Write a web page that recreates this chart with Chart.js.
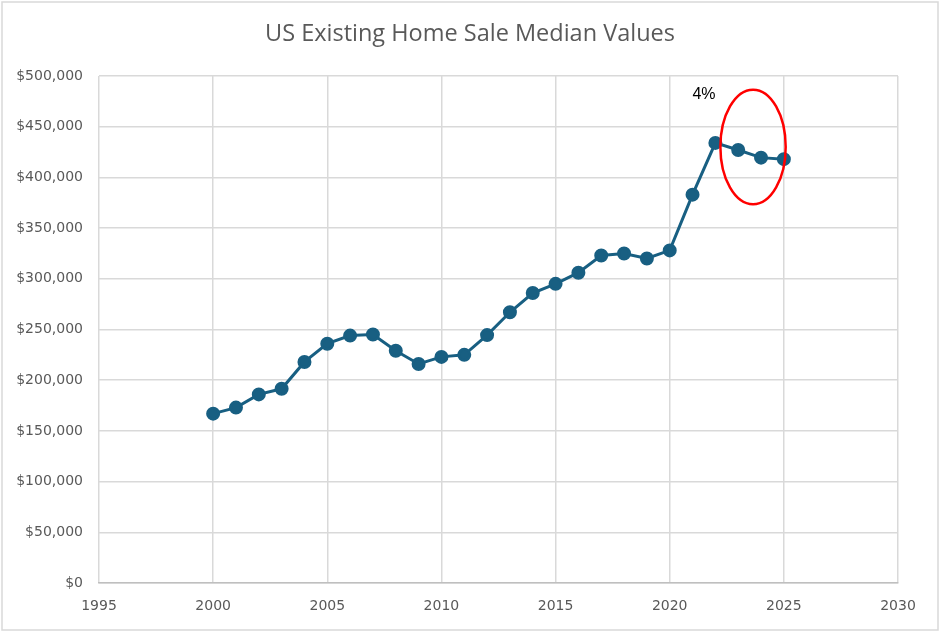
<!DOCTYPE html>
<html>
<head>
<meta charset="utf-8">
<script src="https://cdn.jsdelivr.net/npm/chart.js@4/dist/chart.umd.min.js"></script>
<style>
  html, body { margin: 0; padding: 0; background: #fff; }
  #wrap { width: 940px; height: 632px; }
</style>
</head>
<body>
<div id="wrap"><canvas id="home_chart" width="940" height="632"></canvas></div>
<script>
// data
var years = [2000, 2001, 2002, 2003, 2004, 2005, 2006, 2007, 2008, 2009, 2010, 2011, 2012,
  2013, 2014, 2015, 2016, 2017, 2018, 2019, 2020, 2021, 2022, 2023, 2024, 2025];
var medianValues = [167000, 173000, 186000, 191500, 218000, 236000, 244000, 245000, 229000,
  216000, 223000, 225000, 244500, 267000, 286000, 295000, 306000, 323000, 325000, 320000,
  328000, 383000, 434000, 427000, 419500, 418000];
var xTicks = [1995, 2000, 2005, 2010, 2015, 2020, 2025, 2030];
var yTicks = [0, 50000, 100000, 150000, 200000, 250000, 300000, 350000, 400000, 450000, 500000];
var noteText = "4%";

// red ring + label, placed in data units
var ring = { x: 2023.65, y: 430000, rx: 1.43, ry: 56500 };
var note = { x: 2021.5, y: 482000 };

var grey = "#595959";
var gridGrey = "#d9d9d9";

var extras = {
  id: "extras",
  beforeDraw: function (chart) {
    var c = chart.ctx;
    c.save();
    c.fillStyle = "#fff";
    c.fillRect(0, 0, chart.width, chart.height);
    c.strokeStyle = gridGrey;
    c.lineWidth = 1.5;
    c.strokeRect(2, 2, chart.width - 4, chart.height - 4);
    c.restore();
  },
  afterDatasetsDraw: function (chart) {
    var c = chart.ctx;
    var xs = chart.scales.x, ys = chart.scales.y;
    var cx = xs.getPixelForValue(ring.x), cy = ys.getPixelForValue(ring.y);
    var rx = xs.getPixelForValue(ring.x + ring.rx) - cx;
    var ry = cy - ys.getPixelForValue(ring.y + ring.ry);
    c.save();
    c.beginPath();
    c.ellipse(cx, cy, rx, ry, 0, 0, Math.PI * 2);
    c.strokeStyle = "#ff0000";
    c.lineWidth = 2.5;
    c.stroke();
    c.fillStyle = "#000";
    c.font = "16px 'Liberation Sans', Arial, sans-serif";
    c.textAlign = "center";
    c.textBaseline = "middle";
    c.fillText(noteText, xs.getPixelForValue(note.x), ys.getPixelForValue(note.y));
    c.restore();
  }
};

var ctx = document.getElementById("home_chart").getContext("2d");
var myChart = new Chart(ctx, {
  type: "line",
  data: {
    datasets: [
      {
        label: "Median Value",
        data: years.map(function (yr, i) { return { x: yr, y: medianValues[i] }; }),
        borderColor: "#185f82",
        backgroundColor: "#185f82",
        borderWidth: 3,
        pointRadius: 5.5,
        pointHoverRadius: 5.5,
        tension: 0,
      },
    ],
  },
  options: {
    responsive: false,
    animation: false,
    layout: { padding: 0 },
    plugins: {
      legend: { display: false },
      tooltip: { enabled: false },
      title: {
        display: true,
        text: "US Existing Home Sale Median Values",
        color: grey,
        font: { family: "'Open Sans', 'Noto Sans', sans-serif", size: 23.5, weight: "normal" },
        padding: { top: 20, bottom: 27.8 },
      },
    },
    scales: {
      x: {
        type: "linear",
        min: 1995,
        max: 2030,
        afterBuildTicks: function (axis) {
          axis.ticks = xTicks.map(function (v) { return { value: v }; });
        },
        afterFit: function (axis) { axis.height = 49; },
        grid: { color: gridGrey, lineWidth: 1.5, drawTicks: false },
        border: { color: "#bfbfbf", width: 1.5 },
        ticks: {
          color: grey,
          padding: 15,
          maxRotation: 0,
          font: { family: "'DejaVu Sans', sans-serif", size: 14 },
          callback: function (v) { return String(v); },
        },
      },
      y: {
        min: 0,
        max: 500000,
        afterBuildTicks: function (axis) {
          axis.ticks = yTicks.map(function (v) { return { value: v }; });
        },
        afterFit: function (axis) { axis.width = 99; },
        grid: { color: gridGrey, lineWidth: 1.5, drawTicks: false },
        border: { display: false },
        ticks: {
          color: grey,
          padding: 16,
          font: { family: "'DejaVu Sans', sans-serif", size: 14 },
          callback: function (v) { return "$" + v.toLocaleString("en-US"); },
        },
      },
      // empty right margin so the title stays centred on the whole picture
      yRight: {
        position: "right",
        afterFit: function (axis) { axis.width = 42; },
        grid: { display: false },
        border: { display: false },
        ticks: { display: false },
      },
    },
  },
  plugins: [extras],
});
</script>
</body>
</html>
